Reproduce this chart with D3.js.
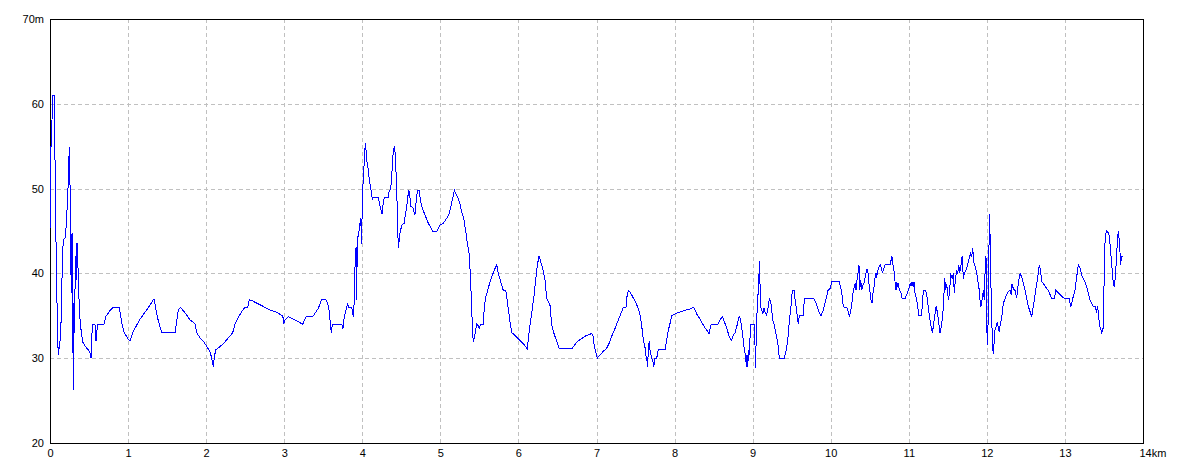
<!DOCTYPE html>
<html><head><meta charset="utf-8">
<script src="https://cdn.jsdelivr.net/npm/d3@7"></script>
<style>html,body{margin:0;padding:0;background:#fff;} svg{display:block;}</style>
</head><body><svg id="chart" width="1184" height="473"></svg>
<script>
const xTicks = [0,1,2,3,4,5,6,7,8,9,10,11,12,13,14];
const xTickLabels = ["0","1","2","3","4","5","6","7","8","9","10","11","12","13","14km"];
const yTicks = [20,30,40,50,60,70];
const yTickLabels = ["20","30","40","50","60","70m"];
const xDomain = [0,14];
const yDomain = [20,70];
// [distance km, elevation m]
const elevationProfile = [
[0.003,45.3],[0.009,55],[0.019,55],[0.032,61],[0.055,61],[0.061,57.7],[0.068,48.3],[0.086,39.2],[0.094,33.6],[0.106,30.4],
[0.119,31.3],[0.137,32.7],[0.145,35.7],[0.158,41.2],[0.170,44],[0.196,44.2],[0.209,45.9],[0.227,49],[0.240,52.8],[0.247,54.9],
[0.256,50.7],[0.265,41.9],[0.273,37.7],[0.282,44.8],[0.291,35.7],[0.298,26.3],[0.307,36.5],[0.316,33],[0.324,42],[0.337,39.2],
[0.346,43.6],[0.355,41.5],[0.362,40],[0.375,36],[0.388,34.1],[0.406,32.7],[0.419,31.9],[0.439,31.6],[0.470,31.2],[0.491,31],
[0.512,30.6],[0.525,30],[0.538,33],[0.547,34],[0.576,34],[0.589,32],[0.598,33],[0.611,34],[0.692,34],[0.713,34.9],
[0.747,35.3],[0.768,35.6],[0.811,36],[0.884,36],[0.900,35.3],[0.922,34],[0.948,33.1],[0.990,32.4],[1.025,32],[1.067,33.2],
[1.111,33.9],[1.153,34.6],[1.239,35.7],[1.332,37],[1.374,34.9],[1.405,33.8],[1.431,33],[1.601,33],[1.623,34.4],[1.643,35.7],
[1.674,36],[1.707,35.6],[1.751,35.1],[1.793,34.5],[1.857,34.1],[1.879,33],[1.921,32.4],[1.964,32],[2.007,31.4],[2.049,30.8],
[2.071,30],[2.092,29],[2.105,30.1],[2.122,31],[2.156,31.2],[2.220,31.7],[2.284,32.4],[2.340,33],[2.370,34],[2.412,34.8],
[2.455,35.5],[2.498,36],[2.532,36],[2.553,36.9],[2.584,36.8],[2.648,36.5],[2.732,36.1],[2.818,35.7],[2.904,35.4],[2.981,35],
[2.997,34.1],[3.010,34.5],[3.052,34.9],[3.116,34.6],[3.181,34.3],[3.237,34],[3.279,34.9],[3.365,34.9],[3.394,35.3],[3.437,35.9],
[3.480,36.9],[3.535,36.9],[3.557,36.5],[3.578,35.5],[3.590,34.1],[3.603,33],[3.616,34],[3.736,34],[3.753,33.5],[3.770,34.9],
[3.800,36],[3.813,36.5],[3.821,36],[3.865,36],[3.877,35.3],[3.885,34.9],[3.898,36.8],[3.907,40.8],[3.920,43.1],[3.929,36.9],
[3.936,44.3],[3.949,44.3],[3.962,45.3],[3.980,46.5],[3.993,43.5],[4.000,49.2],[4.013,51],[4.026,53.4],[4.039,55.4],[4.048,54.5],
[4.057,53.4],[4.077,52.2],[4.090,51],[4.108,50],[4.121,49.4],[4.128,48.7],[4.141,49],[4.205,49],[4.218,48.3],[4.236,47.6],
[4.253,47],[4.269,48.3],[4.282,49],[4.333,49],[4.346,49.8],[4.364,49.9],[4.377,51.6],[4.390,53.4],[4.397,54.4],[4.410,55],
[4.423,54.1],[4.441,49.8],[4.454,45.5],[4.461,43],[4.474,44],[4.483,44.7],[4.505,45.7],[4.538,45.9],[4.551,46.9],[4.569,47.9],
[4.582,49],[4.598,49.8],[4.611,48.9],[4.620,47.9],[4.646,47.8],[4.662,47.3],[4.675,46.9],[4.688,48.3],[4.701,49.4],[4.710,49.8],
[4.730,49.8],[4.743,48.7],[4.761,47.9],[4.803,46.9],[4.846,45.9],[4.889,45.2],[4.910,44.9],[4.953,44.9],[4.995,45.7],[5.038,45.9],
[5.081,46.5],[5.115,47.1],[5.145,48.3],[5.166,49.2],[5.179,49.8],[5.209,49.2],[5.243,48.5],[5.273,47.3],[5.303,46.3],[5.329,44.7],
[5.350,43.3],[5.371,42.2],[5.389,38.8],[5.402,35.7],[5.412,33.3],[5.422,31.9],[5.444,32.9],[5.466,34],[5.486,33.8],[5.499,33.5],
[5.517,34],[5.550,34],[5.563,36.1],[5.585,37.3],[5.614,38.3],[5.658,39.6],[5.691,40.4],[5.722,41],[5.742,40],[5.786,38.6],
[5.806,38],[5.837,38],[5.858,36.7],[5.883,34.9],[5.901,33.7],[5.918,33],[5.956,32.7],[5.999,32.3],[6.063,31.7],[6.114,31.1],
[6.139,33.3],[6.170,35.3],[6.199,37.3],[6.225,39.6],[6.242,41],[6.264,42],[6.285,41.4],[6.311,40.6],[6.341,39.2],[6.362,37.1],
[6.383,36.7],[6.405,36.2],[6.426,33.9],[6.456,32.9],[6.490,32],[6.524,31.1],[6.683,31.1],[6.747,31.9],[6.789,32.2],[6.875,32.7],
[6.939,32.9],[6.955,32.6],[6.972,31.4],[6.994,30.6],[7.010,30],[7.045,30.4],[7.087,30.8],[7.131,31.2],[7.164,31.8],[7.195,32.6],
[7.237,33.5],[7.279,34.5],[7.323,35.5],[7.343,36],[7.378,36],[7.387,37.1],[7.408,38],[7.429,37.8],[7.472,37.1],[7.515,36.3],
[7.548,35.5],[7.566,34.7],[7.583,33.5],[7.600,32.1],[7.621,31.3],[7.630,30.4],[7.643,30],[7.656,29],[7.664,31.4],[7.677,32],
[7.685,31],[7.698,30.4],[7.707,30],[7.720,29.8],[7.733,29],[7.750,30],[7.771,30],[7.792,31],[7.878,31],[7.899,32.1],
[7.920,33.3],[7.942,34.1],[7.963,35],[8.006,35.2],[8.048,35.4],[8.091,35.5],[8.155,35.7],[8.198,35.8],[8.240,36],[8.262,35.7],
[8.284,35.2],[8.326,34.6],[8.368,33.9],[8.412,33.3],[8.441,32.9],[8.467,33.9],[8.496,34],[8.553,34],[8.582,34.5],[8.612,34.9],
[8.646,34.1],[8.676,33.3],[8.701,32.5],[8.732,32.1],[8.752,32.7],[8.774,33],[8.796,33.7],[8.816,34.5],[8.829,34.9],[8.847,34.5],
[8.864,33.3],[8.880,32.1],[8.893,31],[8.911,30.2],[8.919,29],[8.928,30.4],[8.937,29],[8.944,30.4],[8.953,31],[8.962,30.4],
[8.970,34],[9.027,34],[9.034,28.8],[9.043,31.4],[9.056,35.3],[9.073,38.2],[9.082,40],[9.091,41.5],[9.098,36.1],[9.116,35.7],
[9.129,35.2],[9.146,35.9],[9.162,35.3],[9.180,35.1],[9.193,35.7],[9.206,36.5],[9.213,37],[9.231,36.7],[9.244,35.7],[9.257,34.5],
[9.277,33.9],[9.308,32.5],[9.329,31.3],[9.341,30],[9.405,30],[9.427,30.8],[9.449,32.1],[9.470,34.3],[9.491,36.1],[9.508,38],
[9.530,38],[9.543,37],[9.556,36.1],[9.572,34.9],[9.585,34],[9.598,35],[9.649,35],[9.662,37],[9.786,37],[9.812,36.5],
[9.828,36.1],[9.846,35.5],[9.876,35],[9.905,35.7],[9.927,36.5],[9.949,37.3],[9.966,38],[9.991,38.2],[10.013,39],[10.110,39],
[10.128,38.3],[10.145,37.5],[10.161,36.1],[10.183,36],[10.212,35.9],[10.238,35],[10.256,35.5],[10.277,36.9],[10.289,38],[10.302,38.4],
[10.315,38.8],[10.324,38],[10.337,39.2],[10.349,40],[10.362,41],[10.371,38],[10.384,39.2],[10.397,38],[10.410,38.6],[10.426,38.8],
[10.439,39.4],[10.452,40],[10.465,40.5],[10.478,40],[10.490,38.8],[10.503,37.8],[10.516,36.9],[10.529,36.5],[10.542,37.7],[10.555,38.4],
[10.567,39.4],[10.580,40],[10.589,39.5],[10.597,40.1],[10.610,40.5],[10.622,40.9],[10.635,41],[10.648,40.6],[10.661,40.1],[10.674,40.4],
[10.696,41],[10.760,41],[10.772,41.5],[10.785,42],[10.798,41],[10.815,40],[10.824,39],[10.837,38],[10.845,39],[10.858,38.4],
[10.866,38.9],[10.879,38],[10.897,37.8],[10.917,37],[10.952,37],[10.973,37.5],[10.994,38],[11.016,38.8],[11.028,38.5],[11.041,39],
[11.058,38.4],[11.067,39],[11.080,37.7],[11.101,36.9],[11.114,36.1],[11.131,35],[11.160,35],[11.173,36.1],[11.186,38],[11.212,38],
[11.230,37.5],[11.246,36.3],[11.263,35.1],[11.281,34],[11.301,33],[11.314,33.7],[11.332,35],[11.349,36.1],[11.365,35.5],[11.383,34.2],
[11.400,33],[11.417,33.8],[11.435,35],[11.451,37.6],[11.460,39.4],[11.473,38],[11.486,38.8],[11.498,37.5],[11.511,36.9],[11.528,38.6],
[11.537,40],[11.554,39.4],[11.571,40],[11.583,37.7],[11.596,39.2],[11.614,40.4],[11.627,40],[11.640,41],[11.652,40],[11.669,41],
[11.682,42],[11.691,40.8],[11.699,39.4],[11.711,40],[11.724,40.2],[11.742,40.6],[11.762,41.4],[11.775,41.8],[11.793,42.4],[11.806,42],
[11.819,43],[11.826,42],[11.839,41],[11.852,40.8],[11.870,40],[11.887,39],[11.903,38],[11.912,36.9],[11.925,36.1],[11.938,36.9],
[11.955,38],[11.967,36.9],[11.976,39.8],[11.989,42],[12.002,33],[12.011,31.6],[12.024,39.2],[12.031,47],[12.040,44.9],[12.049,40],
[12.062,34.7],[12.074,31.4],[12.082,30.5],[12.095,32.1],[12.104,33.3],[12.117,33.7],[12.134,34.3],[12.147,33.5],[12.159,33.1],[12.168,33.8],
[12.190,34.8],[12.211,36.5],[12.229,36.9],[12.254,37.5],[12.275,37.9],[12.297,38],[12.310,37.5],[12.322,38.8],[12.339,38.2],[12.361,38],
[12.382,37.1],[12.403,38.8],[12.425,40],[12.446,39.6],[12.467,38.8],[12.489,38],[12.510,37.1],[12.531,36.1],[12.553,35.5],[12.575,34.9],
[12.595,36.1],[12.617,37.5],[12.639,38.8],[12.659,40],[12.672,41],[12.690,40.2],[12.703,39],[12.723,38.8],[12.745,38.5],[12.767,38.2],
[12.787,38],[12.809,37.5],[12.831,37],[12.864,37],[12.882,38],[12.915,37.7],[12.959,37.3],[13.001,37],[13.056,37],[13.074,36.1],
[13.087,36.5],[13.107,37.3],[13.129,38],[13.151,39.6],[13.171,41],[13.193,40.6],[13.215,39.8],[13.235,39.4],[13.257,39],[13.279,38.4],
[13.299,37.7],[13.321,36.9],[13.343,36.5],[13.364,36.1],[13.385,36.1],[13.407,35.5],[13.420,36.1],[13.436,34.5],[13.449,33.7],[13.471,33],
[13.484,33.4],[13.491,33.6],[13.500,38.2],[13.513,43.5],[13.526,44.8],[13.535,45],[13.556,44.8],[13.569,44.4],[13.587,42.4],[13.600,41],
[13.613,39.4],[13.630,38.4],[13.641,39.2],[13.654,40.8],[13.663,42.4],[13.676,44.4],[13.686,45],[13.698,43.5],[13.706,42.4],[13.715,41],
[13.723,42],[13.738,42]
];

(function () {
const svg = d3.select("#chart");
const plotLeft = 50, plotRight = 1143, plotTop = 19, plotBottom = 443;
const x = d3.scaleLinear().domain(xDomain).range([plotLeft, plotRight]);
const y = d3.scaleLinear().domain(yDomain).range([plotBottom, plotTop]);
const px = v => Math.round(v) + 0.5;
const fontFamily = "'Liberation Sans', Arial, sans-serif";

// grid
const grid = svg.append("g").attr("stroke", "#c0c0c0").attr("stroke-dasharray", "4,3")
  .attr("stroke-width", 1).attr("shape-rendering", "crispEdges");
grid.selectAll("line.v").data(xTicks.filter(d => d > xDomain[0] && d < xDomain[1]))
  .enter().append("line").attr("class", "v")
  .attr("x1", d => px(x(d))).attr("x2", d => px(x(d)))
  .attr("y1", plotTop).attr("y2", plotBottom);
grid.selectAll("line.h").data(yTicks.filter(d => d > yDomain[0] && d < yDomain[1]))
  .enter().append("line").attr("class", "h")
  .attr("y1", d => px(y(d))).attr("y2", d => px(y(d)))
  .attr("x1", plotLeft).attr("x2", plotRight);

// frame
svg.append("rect").attr("x", px(plotLeft)).attr("y", px(plotTop))
  .attr("width", Math.round(plotRight) - Math.round(plotLeft))
  .attr("height", Math.round(plotBottom) - Math.round(plotTop))
  .attr("fill", "none").attr("stroke", "#000").attr("stroke-width", 1)
  .attr("shape-rendering", "crispEdges");

// axes (labels only)
const xAxis = d3.axisBottom(x).tickValues(xTicks)
  .tickFormat((d, i) => xTickLabels[i]).tickSize(0).tickPadding(6);
const gx = svg.append("g").attr("transform", `translate(0,${plotBottom})`).call(xAxis);
gx.select(".domain").remove();
gx.selectAll("text").attr("font-family", fontFamily).attr("font-size", 11).attr("fill", "#000");
gx.selectAll(".tick").filter(d => d === xDomain[1]).select("text")
  .attr("text-anchor", "start").attr("x", -4);

const yAxis = d3.axisLeft(y).tickValues(yTicks)
  .tickFormat((d, i) => yTickLabels[i]).tickSize(0).tickPadding(6);
const gy = svg.append("g").attr("transform", `translate(${plotLeft},0)`).call(yAxis);
gy.select(".domain").remove();
gy.selectAll("text").attr("font-family", fontFamily).attr("font-size", 11).attr("fill", "#000");

// profile line
const line = d3.line().x(d => x(d[0])).y(d => y(d[1]));
svg.append("path").datum(elevationProfile)
  .attr("d", line).attr("fill", "none").attr("stroke", "#0000ff")
  .attr("stroke-width", 1).attr("shape-rendering", "crispEdges");
})();
</script>
</body></html>
